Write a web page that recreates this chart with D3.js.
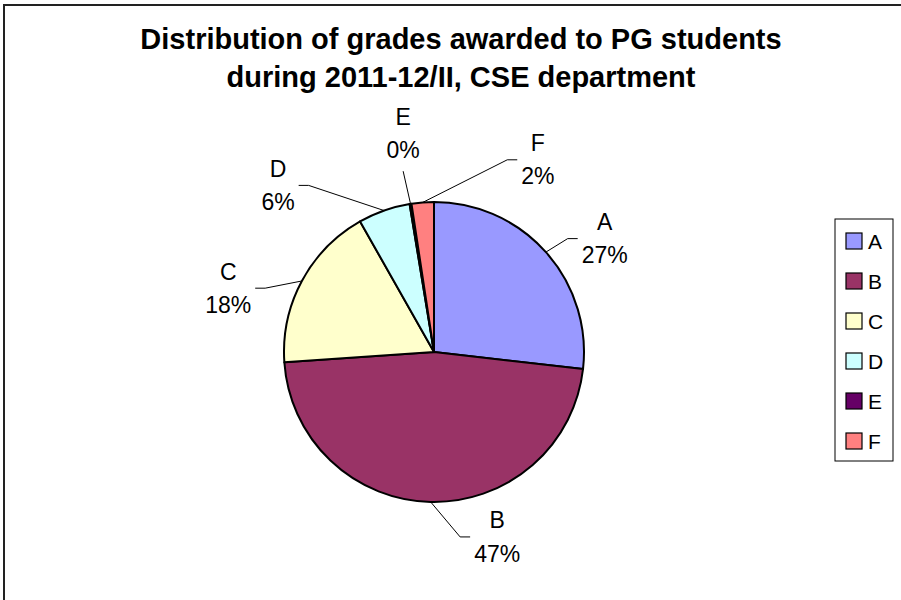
<!DOCTYPE html>
<html>
<head>
<meta charset="utf-8">
<script src="https://cdn.jsdelivr.net/npm/d3@7"></script>
<style>
  html, body { margin: 0; padding: 0; background: #fff; }
  svg { display: block; font-family: "Liberation Sans", Arial, sans-serif; }
</style>
</head>
<body>
<div id="chart"></div>
<script>
// grades and their share of students (percent)
const grades = ["A", "B", "C", "D", "E", "F"];
const shares = [26.8, 47.1, 17.9, 5.6, 0.2, 2.4];
const colors = ["#9999FF", "#993366", "#FFFFCC", "#CCFFFF", "#660066", "#FF8080"];
const titleLines = ["Distribution of grades awarded to PG students", "during 2011-12/II, CSE department"];

// where Excel left the (dragged) data labels: angle from 12 o'clock and distance from centre
const labelAngle = [56.8, 161.3, 286.8, 316.6, 351.9, 28.6];
const labelDist = [204, 197, 215, 227, 219, 217];

const width = 901, height = 600;
const cx = 434, cy = 352, radius = 150;

const svg = d3.select("#chart").append("svg")
    .attr("width", width)
    .attr("height", height);

svg.append("rect")
    .attr("width", width).attr("height", height)
    .attr("fill", "#fff");

// chart area outline (runs off the right and bottom of the picture)
svg.append("rect")
    .attr("x", 4).attr("y", 5)
    .attr("width", width + 20).attr("height", height + 20)
    .attr("fill", "none")
    .attr("stroke", "#222")
    .attr("stroke-width", 2);

// title
svg.append("g")
    .selectAll("text")
    .data(titleLines)
    .join("text")
    .attr("x", 461)
    .attr("y", (d, i) => 49 + i * 38)
    .attr("text-anchor", "middle")
    .style("font-size", "29px")
    .style("font-weight", "bold")
    .text(d => d);

let data = grades.map((g, i) => ({ grade: g, value: shares[i], color: colors[i], i: i }));
let total = d3.sum(shares);

let pie = d3.pie().sort(null).value(d => d.value);
let arcs = pie(data);
let arc = d3.arc().innerRadius(0).outerRadius(radius);

let g = svg.append("g").attr("transform", `translate(${cx},${cy})`);

g.selectAll("path")
    .data(arcs)
    .join("path")
    .attr("d", arc)
    .attr("fill", d => d.data.color)
    .attr("stroke", "#000")
    .attr("stroke-width", 2)
    .attr("stroke-linejoin", "round");

// data labels
let rad = a => a * Math.PI / 180;
let labels = g.append("g").selectAll("text")
    .data(arcs)
    .join("text")
    .attr("text-anchor", "middle")
    .style("font-size", "23px")
    .attr("x", d => labelDist[d.index] * Math.sin(rad(labelAngle[d.index])))
    .attr("y", d => -labelDist[d.index] * Math.cos(rad(labelAngle[d.index])));

labels.append("tspan")
    .attr("x", function () { return d3.select(this.parentNode).attr("x"); })
    .attr("dy", "-0.45em")
    .text(d => d.data.grade);
labels.append("tspan")
    .attr("x", function () { return d3.select(this.parentNode).attr("x"); })
    .attr("dy", "1.45em")
    .text(d => Math.round(d.data.value / total * 100) + "%");

// leader lines from slice edge to label
let leaders = g.append("g").attr("fill", "none").attr("stroke", "#000").attr("stroke-width", 1);
labels.each(function (d) {
    let b = this.getBBox();
    let mid = (d.startAngle + d.endAngle) / 2;
    let px = radius * Math.sin(mid), py = -radius * Math.cos(mid);
    let my = b.y + b.height / 2;
    let pts;
    if (px < b.x) {
        pts = [[px, py], [b.x - 14, my], [b.x - 4, my]];
    } else if (px > b.x + b.width) {
        pts = [[px, py], [b.x + b.width + 14, my], [b.x + b.width + 4, my]];
    } else {
        pts = [[px, py], [b.x + b.width / 2, b.y + b.height + 8]];
    }
    leaders.append("path").attr("d", d3.line()(pts));
});

// legend
let ly = d3.scalePoint().domain(grades).range([241, 441]);
let legend = svg.append("g");
legend.append("rect")
    .attr("x", 835).attr("y", 219)
    .attr("width", 58).attr("height", 242)
    .attr("fill", "#fff")
    .attr("stroke", "#000")
    .attr("stroke-width", 1);
let items = legend.selectAll("g.item")
    .data(data)
    .join("g")
    .attr("class", "item")
    .attr("transform", d => `translate(846,${ly(d.grade)})`);
items.append("rect")
    .attr("x", 0).attr("y", -8)
    .attr("width", 16).attr("height", 16)
    .attr("fill", d => d.color)
    .attr("stroke", "#000")
    .attr("stroke-width", 1.2);
items.append("text")
    .attr("x", 22).attr("y", 8)
    .style("font-size", "21px")
    .text(d => d.grade);
</script>
</body>
</html>
